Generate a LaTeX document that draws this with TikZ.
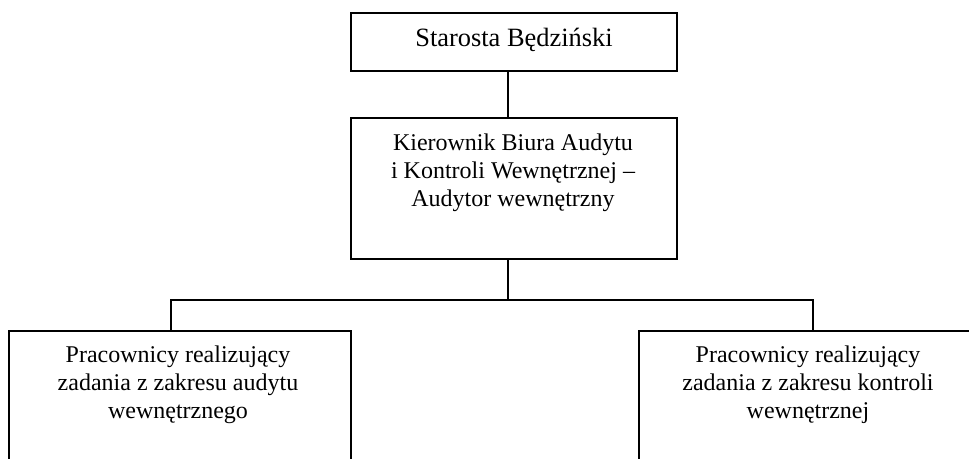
\documentclass[tikz,border=0pt]{standalone}
\usepackage{fontspec}
\setmainfont{Liberation Serif}
\begin{document}
\begin{tikzpicture}[x=0.5pt,y=-0.5pt,
  box/.style={draw, line width=0.75pt, inner sep=0pt, rectangle},
  txt/.style={font=\fontsize{12pt}{14pt}\selectfont, align=center, inner sep=0pt},
  conn/.style={line width=0.7pt}]
\useasboundingbox (0,0) rectangle (969,459);
\clip (0,0) rectangle (969,459);
% boxes
\node[box, minimum width=163pt, minimum height=29pt] (top) at (514,42) {};
\node[box, minimum width=163pt, minimum height=70.5pt] (mid) at (514,188.5) {};
\node[box, minimum width=171pt, minimum height=84.5pt] (lft) at (180,415.5) {};
\node[box, minimum width=169pt, minimum height=84.5pt] (rgt) at (808,415.5) {};
% texts
\node[txt, font=\fontsize{13.2pt}{14pt}\selectfont, anchor=base] (ttop) at (514,47) {Starosta Będziński};
\node[txt, anchor=north] (tmid) at (513,133.5) {Kierownik Biura Audytu\\i Kontroli Wewnętrznej –\\Audytor wewnętrzny};
\node[txt, anchor=north] (tlft) at (178,345.5) {Pracownicy realizujący\\zadania z zakresu audytu\\wewnętrznego};
\node[txt, anchor=north] (trgt) at (808,345.5) {Pracownicy realizujący\\zadania z zakresu kontroli\\wewnętrznej};
% connectors
\coordinate (bus) at (508,300);
\coordinate (busL) at (171,300);
\coordinate (busR) at (813,300);
\draw[conn] ([xshift=-3pt]top.south) -- ([xshift=-3pt]mid.north);
\draw[conn] ([xshift=-3pt]mid.south) -- (bus);
\draw[conn] (lft.north -| busL) -- (busL) -- (busR) -- (rgt.north -| busR);
\end{tikzpicture}
\end{document}
